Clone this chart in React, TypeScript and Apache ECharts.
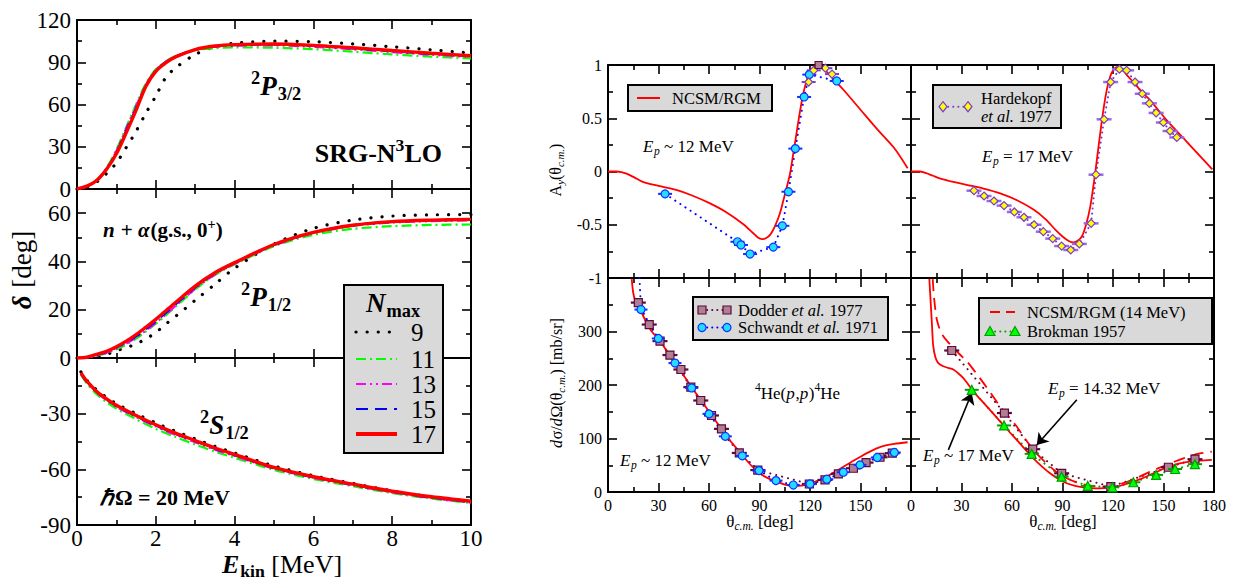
import React, { useEffect, useRef } from 'react';
import * as echarts from 'echarts';

const SERIF = '"Liberation Serif", "Times New Roman", Times, serif';
const FAM = 'Liberation Serif';

// ---------------- Left: n + alpha phase shifts ----------------
const nmaxLabels = ['9', '11', '13', '15', '17'];
const eKinP = [0, 0.25, 0.5, 0.75, 1, 1.25, 1.5, 1.75, 2, 2.25, 2.5, 3, 3.5, 4, 5, 6, 7, 8, 9, 10];
const p32N9 = [0, 1.5, 5, 11, 18.5, 29.5, 41, 54, 66, 79, 86, 95.5, 101, 103.5, 105, 104.6, 103, 101, 98.8, 96.5];
const p32N11 = [0, 2, 6.5, 15, 28, 44, 60, 75, 85, 90.5, 94.3, 98.5, 100, 100.5, 100.3, 99.3, 97.5, 95.6, 94, 92.8];
const p32N13 = [0, 2, 6.5, 14.5, 27, 43, 59, 74, 84.5, 90.3, 94, 98.8, 101, 101.7, 102, 101, 99.2, 97.2, 95.3, 93.8];
const p32N15 = [0, 2, 6, 14, 26, 41.5, 57.5, 73.5, 84, 90, 94, 99, 101.3, 102.2, 102.6, 101.6, 99.8, 97.8, 96, 94.4];
const p32N17 = [0, 2, 6, 14, 25, 40, 56, 73, 83.5, 89.5, 93.8, 99, 101.5, 102.5, 103, 102, 100.3, 98.3, 96.4, 94.6];

const p12N9 = [0, 0.1, 0.5, 1.5, 3, 4.3, 5.8, 8, 10.5, 14, 17.2, 23.9, 30.5, 37.2, 47.2, 53.7, 57.1, 58.8, 59.3, 59.4];
const p12N11 = [0, 0.2, 1, 2, 3.6, 5.6, 8, 11, 14.2, 17.6, 21.2, 28.4, 34.4, 38.8, 46.3, 51, 53.5, 54.6, 55.1, 55.3];
const p12N13 = [0, 0.2, 1, 2.2, 3.9, 6, 8.5, 11.4, 14.6, 18, 21.6, 28.7, 34.6, 39, 46.6, 51.7, 54.7, 56.1, 56.7, 57];
const p12N15 = [0, 0.2, 1.2, 2.5, 4.3, 6.5, 9, 12, 15.2, 18.6, 22.2, 29.2, 35, 39.3, 46.8, 52, 55, 56.4, 57, 57.2];
const p12N17 = [0, 0.3, 1.5, 2.8, 4.7, 7, 9.7, 12.8, 16, 19.5, 23, 29.8, 35.3, 39.5, 47, 52, 55, 56.5, 57.1, 57.4];

const eKinS = [0.1, 0.25, 0.5, 0.75, 1, 1.5, 2, 2.5, 3, 3.5, 4, 5, 6, 7, 8, 9, 10];
const s12N9 = [-7.5, -12, -17.2, -21.2, -24.6, -30, -35, -39.5, -43.6, -47.6, -51.2, -58.2, -63.4, -67.6, -71.6, -74.9, -77.8];
const s12N11 = [-9, -13.8, -19.5, -23.8, -27.3, -33, -38.2, -42.6, -46.6, -50.4, -53.8, -60.3, -65.2, -69.1, -72.8, -75.8, -78.1];
const s12N13 = [-8.5, -13, -18.6, -22.8, -26.3, -31.8, -36.9, -41.4, -45.4, -49.4, -52.8, -59.6, -64.6, -68.6, -72.4, -75.5, -77.9];
const s12N15 = [-8.3, -12.8, -18.3, -22.4, -25.9, -31.4, -36.4, -40.9, -44.9, -48.9, -52.4, -59.3, -64.3, -68.3, -72.1, -75.2, -77.6];
const s12N17 = [-8, -12.5, -18, -22, -25.5, -31, -36, -40.5, -44.5, -48.5, -52, -59, -64, -68, -71.8, -74.8, -77.2];

const eTicks = [0, 2, 4, 6, 8, 10];
const p32Ticks = [0, 30, 60, 90, 120];
const p12Ticks = [0, 20, 40, 60];
const s12Ticks = [-90, -60, -30];

// ---------------- Right: p + 4He ----------------
const thetaTicksL = [0, 30, 60, 90, 120, 150];
const thetaTicksR = [0, 30, 60, 90, 120, 150, 180];
const ayTicks = [-1, -0.5, 0, 0.5, 1];
const xsTicks = [0, 100, 200, 300];

const ay12Theory = [[0, 0], [5, 0], [8, -0.005], [11, -0.02], [15, -0.05], [21, -0.1], [30, -0.135], [41, -0.175], [50, -0.225], [60, -0.295], [70, -0.38], [80, -0.49], [86, -0.575], [89, -0.62], [91.5, -0.635], [94, -0.625], [96.5, -0.59], [99, -0.52], [102, -0.4], [105, -0.22], [108, -0.03], [110, 0.16], [112, 0.36], [114, 0.56], [116, 0.73], [118, 0.855], [120, 0.935], [122, 0.98], [124.5, 1.0], [127, 0.98], [130, 0.935], [135, 0.85], [140, 0.765], [150, 0.58], [160, 0.395], [170, 0.22], [178, 0.03]];
const ay12Schwandt = [[33.9, -0.21], [76.9, -0.66], [79, -0.69], [84.4, -0.775], [98.2, -0.71], [103.6, -0.51], [107.2, -0.19], [111.3, 0.215], [116.5, 0.7], [119.6, 0.91], [135.9, 0.85]];
const ay12Diamonds = [[119.2, 0.84], [122.2, 0.95], [129.1, 0.97], [133.1, 0.915]];
const ay12Squares = [[125.1, 1.0]];

const ay17Theory = [[0, 0], [5, 0], [9, -0.015], [13, -0.04], [18, -0.07], [23, -0.09], [33, -0.125], [43, -0.16], [53, -0.205], [63, -0.27], [73, -0.36], [80, -0.45], [86, -0.55], [90, -0.61], [94, -0.655], [96.5, -0.665], [99, -0.65], [101.5, -0.61], [104, -0.5], [106.5, -0.33], [108.5, -0.12], [110.5, 0.12], [112.5, 0.37], [114.5, 0.6], [116.5, 0.78], [118.5, 0.9], [120.5, 0.96], [122, 0.98], [124, 0.975], [126, 0.95], [128, 0.91], [132, 0.84], [137, 0.75], [142, 0.67], [152, 0.48], [162, 0.31], [172, 0.14], [179, 0.02]];
const ay17Hardekopf = [[37.4, -0.18], [43.4, -0.23], [49.3, -0.277], [55.3, -0.32], [61.4, -0.38], [67.1, -0.43], [73.1, -0.5], [78.6, -0.565], [84.2, -0.63], [89.5, -0.7], [94.9, -0.737], [100, -0.68], [107, -0.487], [109.9, -0.03], [114.7, 0.49], [118.6, 0.84], [123.8, 0.96], [128.1, 0.95], [133.1, 0.84], [137.4, 0.73], [141.6, 0.64], [145.6, 0.55], [149.9, 0.46], [153.9, 0.38], [157.9, 0.32]];

const xs12Theory = [[14.1, 398], [15.4, 366], [18, 347], [20, 335], [23, 316], [26, 300], [31, 282], [36, 258], [41, 235], [46, 213], [51, 190], [56, 168], [61, 146], [66, 124], [71, 102], [76, 83], [80.5, 66], [85, 50], [90, 35], [95, 26], [100, 19.5], [105, 14], [110, 11.5], [115, 12], [120, 16], [125, 22], [130, 29], [135, 38], [140, 47.5], [145, 57], [150, 66], [155, 74.5], [160, 82], [165, 87], [170, 90], [178, 93]];
const xs12Schwandt = [[17.5, 480], [19.6, 341], [29.9, 287], [39.8, 241], [49.7, 194.5], [60, 146], [69.7, 104], [79.8, 67.5], [89.7, 40], [99.8, 21.3], [110.1, 13], [120, 15], [130, 23.8], [139.8, 37], [149.7, 50.7], [160, 64.4], [170.1, 73.8]];
const xs12Dodder = [[18, 354], [24.5, 313], [30.9, 282], [36.8, 256], [43.3, 229], [49.2, 196], [55.1, 171], [61.5, 143], [67.4, 118], [78, 73], [89, 41], [119.6, 15], [128.9, 22.5], [136.9, 34], [145.8, 44.4], [153.3, 55], [161.6, 65], [168.9, 72.6]];

const xs17Theory = [[10.9, 398], [11.7, 354], [12.5, 310], [13.2, 273], [14.5, 252], [16.2, 241], [19.2, 235], [22, 232], [25.1, 229], [28, 222], [31.1, 213], [34, 201], [37, 188], [41, 174], [45, 160], [49, 146], [52.9, 132], [58, 114], [62.8, 97.6], [67.7, 80], [72.7, 63], [77.7, 48], [82.6, 35], [87.5, 24.5], [92.5, 16.3], [97.5, 11.5], [102.4, 8.8], [107.4, 7.3], [112.3, 6.9], [117.2, 7.8], [122.2, 10], [127.1, 14], [132.1, 19.3], [137, 25], [142, 31.9], [147, 39], [151.9, 46.3], [156.8, 51], [161.8, 55], [166.7, 57.2], [171.7, 58.7], [178.7, 60]];
const xs14Theory = [[12.9, 398], [13.5, 370], [14.3, 345], [15.3, 323], [17, 305], [19.2, 291], [22, 280], [25.1, 270], [29, 257], [33.1, 244.5], [38, 225], [43, 204], [48, 182], [52.9, 160], [58, 141], [62.8, 122.5], [67.7, 100], [72.7, 78.8], [77.7, 62], [82.6, 47.5], [87.5, 35], [92.5, 25.7], [97.5, 19], [102.4, 14.4], [107.4, 11.5], [112.3, 10], [117.2, 10.6], [122.2, 13], [127.1, 17.5], [132.1, 23.8], [137, 30.5], [142, 38], [147, 44.5], [151.9, 50.7], [156.8, 57], [161.8, 63], [166.7, 68], [171.7, 72], [178.7, 75.6]];
const xs14Dodder = [[24.2, 264.5], [55.5, 147.6], [72.3, 80], [89.5, 35], [118.7, 10], [152.9, 46.3], [168.7, 61.3]];
const xs17Brokman = [[36.1, 191], [55.3, 124.4], [71.7, 71.3], [89.5, 28.7], [105, 11.3], [119.6, 8.8], [132.1, 18.2], [145.6, 31.9], [156.9, 43], [168.7, 52]];
const arrowsR4 = [{ from: [98.5, 172.6], to: [74.7, 88] }, { from: [22.2, 78.8], to: [36.1, 185] }];

// ---------------- helpers ----------------
const zip = (xs: number[], ys: number[]) => xs.map((x, i) => [x, ys[i]]);

let measureCtx: any = null;
function measure(text: string, size: number, weight: string, fstyle: string) {
  if (!measureCtx) measureCtx = document.createElement('canvas').getContext('2d');
  measureCtx.font = `${fstyle} ${weight} ${size}px "${FAM}", serif`;
  return measureCtx.measureText(text).width;
}

// segments: r/i/b/bi main; s* subscript; p* superscript
function T(x: number, y: number, segs: [string, string][], S: number, opts: any = {}) {
  const align = opts.align || 'left';
  const subF = opts.subDy || 0.3;
  const parts = segs.map(([k, t]) => {
    const isSub = k[0] === 's';
    const isSup = k[0] === 'p';
    const core = isSub || isSup ? k.slice(1) : k;
    const size = isSub || isSup ? S * 0.68 : S;
    const weight = core.includes('b') ? 'bold' : 'normal';
    const fstyle = core.includes('i') ? 'italic' : 'normal';
    const dy = isSub ? S * subF : isSup ? -S * 0.3 : 0;
    const w = measure(t, size, weight, fstyle) + (fstyle === 'italic' && !isSub && !isSup ? S * 0.04 : 0);
    return { t, size, weight, fstyle, dy, w };
  });
  const total = parts.reduce((a, p) => a + p.w, 0);
  let cx = align === 'center' ? -total / 2 : align === 'right' ? -total : 0;
  const children = parts.map((p) => {
    const st: any = {
      text: p.t, fill: '#000', fontFamily: SERIF, fontSize: p.size,
      align: 'left', verticalAlign: 'middle', textAlign: 'left', textVerticalAlign: 'middle',
    };
    if (p.weight === 'bold') st.fontWeight = 'bold';
    if (p.fstyle === 'italic') st.fontStyle = 'italic';
    const el = { type: 'text', x: cx, y: p.dy, z: 120, silent: true, style: st };
    cx += p.w;
    return el;
  });
  return { type: 'group', x, y, rotation: opts.rotation || 0, silent: true, children };
}

const tickStyle = { color: '#000', width: 1.6 };
function mkAxis(gridIndex: number, position: string, min: number, max: number, interval: number, labels: number[] | null, fontSize: number, margin: number) {
  return {
    type: 'value', gridIndex, position, min, max, interval,
    axisLine: { show: true, onZero: false, lineStyle: { color: '#000', width: 2 } },
    axisTick: { show: true, inside: true, length: 9, lineStyle: tickStyle },
    minorTick: { show: true, splitNumber: 2, length: 5, lineStyle: tickStyle },
    splitLine: { show: false },
    minorSplitLine: { show: false },
    axisPointer: { show: false },
    axisLabel: labels
      ? {
          show: true, margin, color: '#000', fontFamily: SERIF, fontSize,
          showMinLabel: true, showMaxLabel: true,
          formatter: (v: number) => (labels.some((l) => Math.abs(l - v) < 1e-9) ? String(v) : ''),
        }
      : { show: false },
  };
}

const grids = [
  { left: 77, top: 20, width: 394, height: 169 },
  { left: 77, top: 189, width: 394, height: 169 },
  { left: 77, top: 358, width: 394, height: 167 },
  { left: 608, top: 65, width: 303, height: 213 },
  { left: 911, top: 65, width: 303, height: 213 },
  { left: 608, top: 278, width: 303, height: 214 },
  { left: 911, top: 278, width: 303, height: 214 },
];

const nmaxStyles = [
  { color: '#000000', width: 3.2, type: [0.1, 11], cap: 'round' },
  { color: '#00ff00', width: 2.2, type: [10, 4, 2, 4], cap: 'butt' },
  { color: '#ff00ff', width: 2.2, type: [10, 4, 2, 4, 2, 4], cap: 'butt' },
  { color: '#0000ff', width: 2.2, type: [12, 7], cap: 'butt' },
  { color: '#ff0000', width: 3.4, type: 'solid', cap: 'butt' },
];

function lineS(g: number, data: any[], color: string, width: number, type: any, cap: string, smooth: any, z: number, extra: any = {}) {
  return {
    type: 'line', xAxisIndex: 2 * g, yAxisIndex: 2 * g, data, showSymbol: false, symbol: 'none',
    smooth, lineStyle: { color, width, type, cap }, silent: true, z, emphasis: { disabled: true }, ...extra,
  };
}
function scat(g: number, data: any[], symbol: string, size: any, fill: string, stroke: string | null, z: number) {
  return {
    type: 'scatter', xAxisIndex: 2 * g, yAxisIndex: 2 * g, data, symbol, symbolSize: size, silent: true, z,
    itemStyle: { color: fill, borderColor: stroke || fill, borderWidth: stroke ? 1.2 : 0, opacity: 1 },
    emphasis: { disabled: true },
  };
}

const CYAN = '#22ddff', BLUE = '#1030ff', MAUVE = '#b07f92', MAROON = '#5a0a3a', YELLOW = '#ffff00', PURPLE = '#7a3ad0', GREEN = '#00ff00', DGREEN = '#00a000';

export default function App() {
  const ref = useRef<HTMLDivElement>(null);
  useEffect(() => {
    if (!ref.current) return;
    const chart = echarts.init(ref.current, undefined, { renderer: 'svg' });

    const xAxis: any[] = [];
    const yAxis: any[] = [];
    const leftY = [[0, 120, 30, p32Ticks], [0, 70, 20, p12Ticks], [-90, 0, 30, s12Ticks]];
    for (let g = 0; g < 3; g++) {
      xAxis.push(mkAxis(g, 'bottom', 0, 10, 2, g === 2 ? eTicks : null, 23, 2));
      xAxis.push(mkAxis(g, 'top', 0, 10, 2, null, 23, 6));
      const [mn, mx, iv, lb] = leftY[g] as any;
      yAxis.push(mkAxis(g, 'left', mn, mx, iv, lb, 23, 6));
      yAxis.push(mkAxis(g, 'right', mn, mx, iv, null, 23, 6));
    }
    for (let g = 3; g < 7; g++) {
      const xl = g === 5 ? thetaTicksL : g === 6 ? thetaTicksR : null;
      xAxis.push(mkAxis(g, 'bottom', 0, 180, 30, xl, 16, 5));
      xAxis.push(mkAxis(g, 'top', 0, 180, 30, null, 16, 5));
      const isAy = g < 5;
      const yl = g === 3 ? ayTicks : g === 5 ? xsTicks : null;
      yAxis.push(mkAxis(g, 'left', isAy ? -1 : 0, isAy ? 1 : 400, isAy ? 0.5 : 100, yl, 16, 6));
      yAxis.push(mkAxis(g, 'right', isAy ? -1 : 0, isAy ? 1 : 400, isAy ? 0.5 : 100, null, 16, 6));
    }

    const series: any[] = [];
    const leftSets = [
      [eKinP, [p32N9, p32N11, p32N13, p32N15, p32N17]],
      [eKinP, [p12N9, p12N11, p12N13, p12N15, p12N17]],
      [eKinS, [s12N9, s12N11, s12N13, s12N15, s12N17]],
    ] as any;
    leftSets.forEach(([xs, sets]: any, g: number) => {
      sets.forEach((ys: number[], k: number) => {
        const st = nmaxStyles[k];
        series.push(lineS(g, zip(xs, ys), st.color, st.width, st.type, st.cap, 0.3, 3 + k, { name: nmaxLabels[k] }));
      });
    });

    // R1
    series.push(lineS(3, ay12Schwandt, '#0000ff', 2, [0.1, 6], 'round', false, 2));
    series.push(lineS(3, ay12Theory, '#ff0000', 1.8, 'solid', 'butt', 0.3, 3));
    series.push(scat(3, ay12Schwandt, 'rect', [14, 2], BLUE, null, 4));
    series.push(scat(3, ay12Schwandt, 'circle', 8, CYAN, BLUE, 5));
    series.push(scat(3, ay12Diamonds, 'rect', [14, 2], PURPLE, null, 4));
    series.push(scat(3, ay12Diamonds, 'diamond', 8, YELLOW, PURPLE, 5));
    series.push(scat(3, ay12Squares, 'rect', 7, MAUVE, MAROON, 6));
    // R2
    series.push(lineS(4, ay17Hardekopf, PURPLE, 2, [0.1, 5], 'round', false, 2));
    series.push(lineS(4, ay17Theory, '#ff0000', 1.8, 'solid', 'butt', 0.3, 3));
    series.push(scat(4, ay17Hardekopf, 'rect', [15, 2.5], '#9a6ae6', null, 4));
    series.push(scat(4, ay17Hardekopf, 'diamond', 8, YELLOW, PURPLE, 5));
    // R3
    series.push(lineS(5, xs12Dodder, MAROON, 2, [0.1, 6], 'round', false, 2));
    series.push(lineS(5, xs12Schwandt, '#0000ff', 2, [0.1, 6], 'round', false, 2));
    series.push(lineS(5, xs12Theory, '#ff0000', 1.8, 'solid', 'butt', 0.3, 3));
    series.push(scat(5, xs12Dodder, 'rect', [15, 2.2], MAROON, null, 4));
    series.push(scat(5, xs12Dodder, 'rect', 8, MAUVE, MAROON, 5));
    series.push(scat(5, xs12Schwandt, 'rect', [13, 2], BLUE, null, 6));
    series.push(scat(5, xs12Schwandt, 'circle', 8, CYAN, BLUE, 7));
    // R4
    series.push(lineS(6, xs14Dodder, MAROON, 2, [0.1, 6], 'round', false, 2));
    series.push(lineS(6, xs17Brokman, DGREEN, 2, [0.1, 6], 'round', false, 2));
    series.push(lineS(6, xs14Theory, '#ff0000', 1.8, [12, 7], 'butt', 0.3, 3));
    series.push(lineS(6, xs17Theory, '#ff0000', 1.8, 'solid', 'butt', 0.3, 3, {
      markLine: {
        silent: true, symbol: ['none', 'arrow'], symbolSize: 11, animation: false,
        label: { show: false },
        lineStyle: { color: '#000', width: 1.6, type: 'solid' },
        data: arrowsR4.map((a) => [{ coord: a.from }, { coord: a.to }]),
      },
    }));
    series.push(scat(6, xs14Dodder, 'rect', [15, 2.2], MAROON, null, 4));
    series.push(scat(6, xs14Dodder, 'rect', 8, MAUVE, MAROON, 5));
    series.push(scat(6, xs17Brokman, 'rect', [14, 2], DGREEN, null, 6));
    series.push(scat(6, xs17Brokman, 'triangle', 9, GREEN, DGREEN, 7));

    // ---------- graphic ----------
    const gfx: any[] = [];
    const box = (x: number, y: number, w: number, h: number) => ({ type: 'rect', z: 100, silent: true, shape: { x, y, width: w, height: h }, style: { fill: '#d9d9d9', stroke: '#000', lineWidth: 2 } });
    const seg = (x1: number, y1: number, x2: number, y2: number, stroke: string, lineWidth: number, lineDash: any, lineCap = 'butt') => ({ type: 'line', z: 101, silent: true, shape: { x1, y1, x2, y2 }, style: { stroke, lineWidth, lineDash, lineCap } });
    const circ = (cx: number, cy: number) => ({ type: 'circle', z: 102, silent: true, shape: { cx, cy, r: 4 }, style: { fill: CYAN, stroke: BLUE, lineWidth: 1.2 } });
    const sq = (cx: number, cy: number) => ({ type: 'rect', z: 102, silent: true, shape: { x: cx - 4, y: cy - 4, width: 8, height: 8 }, style: { fill: MAUVE, stroke: MAROON, lineWidth: 1.2 } });
    const dia = (cx: number, cy: number) => ({ type: 'polygon', z: 102, silent: true, shape: { points: [[cx, cy - 5], [cx + 4, cy], [cx, cy + 5], [cx - 4, cy]] }, style: { fill: YELLOW, stroke: PURPLE, lineWidth: 1.2 } });
    const tri = (cx: number, cy: number) => ({ type: 'polygon', z: 102, silent: true, shape: { points: [[cx, cy - 5], [cx + 5, cy + 4], [cx - 5, cy + 4]] }, style: { fill: GREEN, stroke: DGREEN, lineWidth: 1.2 } });

    // left legend
    gfx.push(box(344, 285, 99, 168));
    gfx.push(T(393, 303, [['bi', 'N'], ['sb', 'max']], 27, { align: 'center' }));
    const rowsY = [332, 359, 384, 409, 434];
    nmaxStyles.forEach((st, k) => {
      gfx.push(seg(356, rowsY[k], 397, rowsY[k], st.color, k === 4 ? 4 : st.width, st.type === 'solid' ? null : st.type, st.cap));
      gfx.push(T(411, rowsY[k], [['r', nmaxLabels[k]]], 25));
    });

    // left annotations
    gfx.push(T(251, 86, [['pb', '2'], ['bi', 'P'], ['sb', '3/2']], 27));
    gfx.push(T(442, 153, [['b', 'SRG-N'], ['pb', '3'], ['b', 'LO']], 26, { align: 'right' }));
    gfx.push(T(103, 230, [['bi', 'n'], ['b', ' + '], ['bi', 'α'], ['b', '(g.s., 0'], ['pb', '+'], ['b', ')']], 21));
    gfx.push(T(241, 297, [['pb', '2'], ['bi', 'P'], ['sb', '1/2']], 27));
    gfx.push(T(200, 425, [['pb', '2'], ['bi', 'S'], ['sb', '1/2']], 27));
    gfx.push(T(100, 497, [['bi', 'ℏ'], ['b', 'Ω = 20 MeV']], 22));
    gfx.push(T(22, 270, [['bi', 'δ'], ['r', ' [deg]']], 27, { align: 'center', rotation: Math.PI / 2 }));
    gfx.push(T(282, 564, [['bi', 'E'], ['sb', 'kin'], ['r', ' [MeV]']], 26, { align: 'center', subDy: 0.26 }));

    // right annotations
    const RS = 16.5;
    gfx.push(T(643, 146, [['i', 'E'], ['si', 'p'], ['r', ' ~ 12 MeV']], 17));
    gfx.push(T(982, 156, [['i', 'E'], ['si', 'p'], ['r', ' = 17 MeV']], 17));
    gfx.push(T(755, 393, [['pr', '4'], ['r', 'He('], ['i', 'p'], ['r', ','], ['i', 'p'], ['r', ')'], ['pr', '4'], ['r', 'He']], 17));
    gfx.push(T(620, 460, [['i', 'E'], ['si', 'p'], ['r', ' ~ 12 MeV']], 17));
    gfx.push(T(1048, 388, [['i', 'E'], ['si', 'p'], ['r', ' = 14.32 MeV']], 17));
    gfx.push(T(923, 455, [['i', 'E'], ['si', 'p'], ['r', ' ~ 17 MeV']], 17));
    gfx.push(T(555, 170, [['r', 'A'], ['si', 'y'], ['r', '(θ'], ['si', 'c.m.'], ['r', ')']], 16, { align: 'center', rotation: Math.PI / 2 }));
    gfx.push(T(556, 383, [['i', 'd'], ['r', 'σ/'], ['i', 'd'], ['r', 'Ω(θ'], ['si', 'c.m.'], ['r', ') [mb/sr]']], 16, { align: 'center', rotation: Math.PI / 2 }));
    gfx.push(T(760, 521, [['r', 'θ'], ['si', 'c.m.'], ['r', ' [deg]']], 17, { align: 'center' }));
    gfx.push(T(1063, 521, [['r', 'θ'], ['si', 'c.m.'], ['r', ' [deg]']], 17, { align: 'center' }));

    // right legends
    gfx.push(box(628, 85, 144, 26));
    gfx.push(seg(637, 98, 660, 98, '#ff0000', 2, null));
    gfx.push(T(672, 98, [['r', 'NCSM/RGM']], RS));

    gfx.push(box(933, 85, 128, 43));
    gfx.push(seg(943, 106.7, 968, 106.7, PURPLE, 2, [0.1, 5], 'round'));
    gfx.push(dia(943, 106.7), dia(968, 106.7));
    gfx.push(T(981, 98.5, [['r', 'Hardekopf']], RS));
    gfx.push(T(981, 116.5, [['i', 'et al.'], ['r', ' 1977']], RS));

    gfx.push(box(693, 297, 195, 43));
    gfx.push(seg(702, 310, 727, 310, MAROON, 2, [0.1, 5], 'round'));
    gfx.push(sq(702, 310), sq(727, 310));
    gfx.push(T(738, 310, [['r', 'Dodder '], ['i', 'et al.'], ['r', ' 1977']], RS));
    gfx.push(seg(702, 327.5, 727, 327.5, '#0000ff', 2, [0.1, 5], 'round'));
    gfx.push(circ(702, 327.5), circ(727, 327.5));
    gfx.push(T(738, 327.5, [['r', 'Schwandt '], ['i', 'et al.'], ['r', ' 1971']], RS));

    gfx.push(box(979, 298, 233, 46));
    gfx.push(seg(990, 312, 1015, 312, '#ff0000', 2, [10, 6]));
    gfx.push(T(1027, 312, [['r', 'NCSM/RGM (14 MeV)']], RS));
    gfx.push(seg(990, 331.5, 1015, 331.5, DGREEN, 2, [0.1, 5], 'round'));
    gfx.push(tri(990, 331.5), tri(1015, 331.5));
    gfx.push(T(1027, 331.5, [['r', 'Brokman 1957']], RS));

    chart.setOption({
      animation: false,
      backgroundColor: '#ffffff',
      textStyle: { fontFamily: SERIF },
      grid: grids.map((g) => ({ ...g, containLabel: false, outerBoundsMode: 'none' })),
      xAxis,
      yAxis,
      series,
      graphic: { elements: gfx },
    });
    return () => chart.dispose();
  }, []);
  return <div ref={ref} style={{ position: 'absolute', left: 0, top: 0, width: 1236, height: 582, background: '#fff' }} />;
}
